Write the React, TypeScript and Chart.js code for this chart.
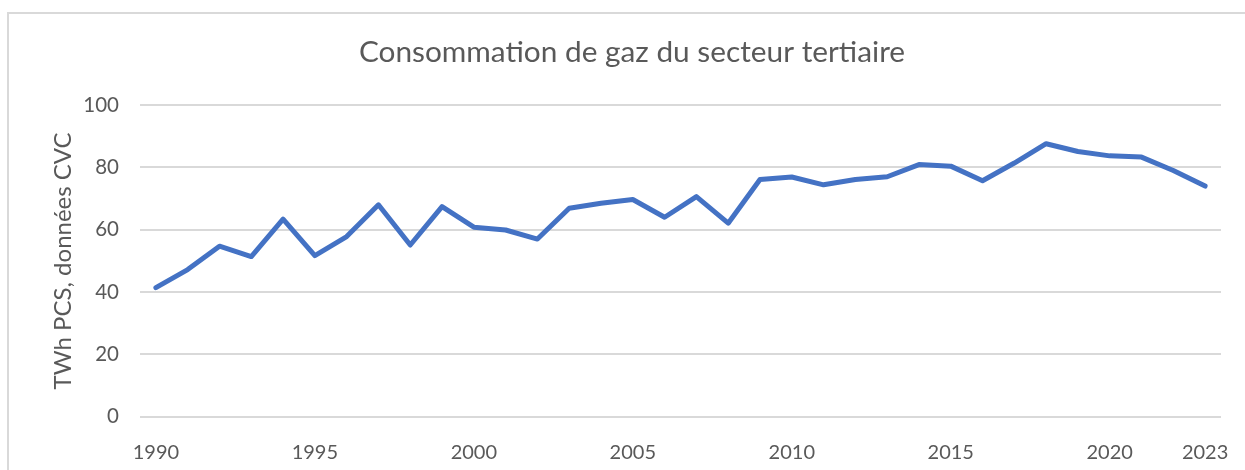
import React, { useEffect, useRef } from "react";
import { Chart, registerables } from "chart.js";

Chart.register(...registerables);

const years = [
  "1990", "1991", "1992", "1993", "1994", "1995", "1996", "1997", "1998", "1999",
  "2000", "2001", "2002", "2003", "2004", "2005", "2006", "2007", "2008", "2009",
  "2010", "2011", "2012", "2013", "2014", "2015", "2016", "2017", "2018", "2019",
  "2020", "2021", "2022", "2023",
];

const consumption = [
  41.4, 47.2, 54.7, 51.4, 63.4, 51.7, 57.8, 68.0, 55.1, 67.4,
  60.8, 59.9, 57.0, 66.9, 68.5, 69.7, 64.0, 70.6, 62.1, 76.1,
  76.9, 74.4, 76.1, 77.0, 80.9, 80.4, 75.7, 81.4, 87.6, 85.1,
  83.7, 83.3, 79.0, 74.0,
];

const shownYearLabels = ["1990", "1995", "2000", "2005", "2010", "2015", "2020", "2023"];

const yTicks = [0, 20, 40, 60, 80, 100];

const TEXT = "#595959";
const GRID = "#d9d9d9";
const FONT = "Lato";

export default function App() {
  const ref = useRef<HTMLCanvasElement | null>(null);

  useEffect(() => {
    if (!ref.current) return;
    const chart = new Chart(ref.current, {
      type: "line",
      data: {
        labels: years,
        datasets: [
          {
            label: "Consommation",
            data: consumption,
            borderColor: "#4472C4",
            backgroundColor: "#4472C4",
            borderWidth: 5,
            pointRadius: 0,
            tension: 0,
            borderJoinStyle: "round",
            borderCapStyle: "round",
          },
        ],
      },
      options: {
        responsive: false,
        animation: false,
        devicePixelRatio: 1,
        layout: { padding: { left: 43, right: 24, top: 0, bottom: 0 } },
        plugins: {
          legend: { display: false },
          tooltip: { enabled: false },
          title: {
            display: true,
            text: "Consommation de gaz du secteur tertiaire",
            color: TEXT,
            font: { family: FONT, size: 29.8, weight: "normal" },
            padding: { top: 34.2, bottom: 35.1 },
          },
        },
        scales: {
          x: {
            type: "category",
            offset: true,
            grid: { display: false, drawTicks: false },
            border: { display: false },
            ticks: {
              autoSkip: false,
              maxRotation: 0,
              minRotation: 0,
              padding: 24,
              color: TEXT,
              font: { family: FONT, size: 20 },
              callback: function (this: any, value: any) {
                const lab = years[value as number];
                return shownYearLabels.includes(lab) ? lab : "";
              },
            },
            afterFit: (s: any) => {
              s.height = 53.3;
              s.paddingLeft = 0;
              s.paddingRight = 0;
            },
          },
          y: {
            min: yTicks[0],
            max: yTicks[yTicks.length - 1],
            afterBuildTicks: (s: any) => {
              s.ticks = yTicks.map((v) => ({ value: v }));
            },
            grid: { color: GRID, lineWidth: 2, drawTicks: false },
            border: { display: false },
            ticks: {
              padding: 21,
              color: TEXT,
              font: { family: FONT, size: 20.5 },
            },
            title: {
              display: true,
              text: "TWh PCS, données CVC",
              color: TEXT,
              font: { family: FONT, size: 24, weight: "normal" },
              padding: { top: 6, bottom: 0 },
            },
            afterFit: (s: any) => {
              s.width = 97;
            },
          },
        },
      },
    });
    return () => chart.destroy();
  }, []);

  return (
    <div style={{ position: "absolute", left: 0, top: 0, width: 1245, height: 470, background: "#fff", overflow: "hidden" }}>
      <div
        style={{
          position: "absolute",
          left: 7,
          top: 12,
          width: 1245,
          height: 470,
          borderTop: `2px solid ${GRID}`,
          borderLeft: `2px solid ${GRID}`,
        }}
      />
      <canvas ref={ref} width={1245} height={470} style={{ position: "absolute", left: 0, top: 0 }} />
    </div>
  );
}
